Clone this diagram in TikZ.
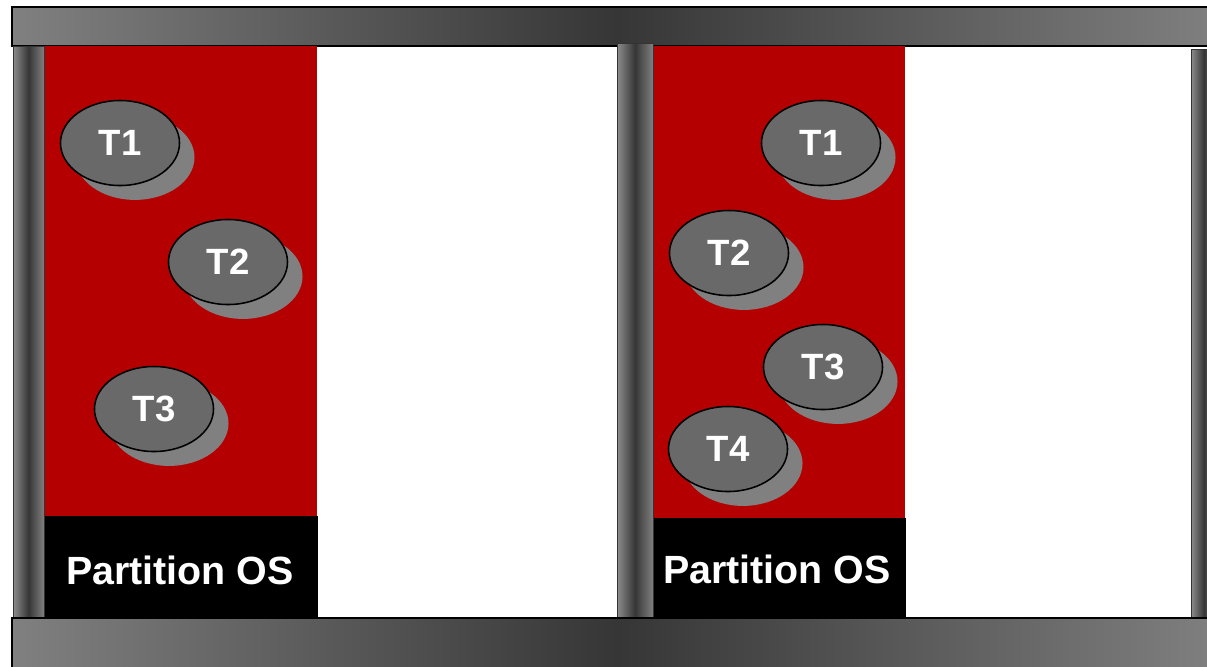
\documentclass[tikz,border=0pt]{standalone}
\usepackage{fontspec}
\setmainfont{Liberation Sans}
\usetikzlibrary{shapes.geometric,shadows,positioning}
\definecolor{partred}{RGB}{180,0,0}
\definecolor{taskgray}{RGB}{105,105,105}
\definecolor{shadowgray}{RGB}{128,128,128}
\definecolor{barlight}{RGB}{128,128,128}
\definecolor{bardark}{RGB}{54,54,54}

\begin{document}
\begin{tikzpicture}[
  x=0.025cm, y=-0.025cm,
  rail/.style={draw=black, line width=1.2pt, left color=barlight, right color=barlight,
               middle color=bardark},
  pillar/.style={draw=black!80, line width=0.7pt, left color=barlight!90, right color=barlight,
                 middle color=bardark},
  part/.style={fill=partred, draw=none},
  osbox/.style={fill=black, draw=none},
  oslabel/.style={anchor=base, text=white, font=\fontsize{28}{32}\selectfont\bfseries},
  task/.style={ellipse, draw, line width=1.1pt, fill=taskgray, minimum width=2.975cm,
               minimum height=2.125cm, inner sep=0pt, text=white,
               font=\fontsize{26}{30}\selectfont\bfseries,
               general shadow={shadow xshift=0.375cm, shadow yshift=-0.36cm,
                               fill=shadowgray, draw=none}}
]
\useasboundingbox (0,0) rectangle (1207,666);

% frame
\draw[rail] (12,7) rectangle (1222,46);

% partitions
\fill[part] (44,46) rectangle (317,516);
\fill[part] (653,46) rectangle (905,518);
\fill[osbox] (43,516) rectangle (318,618);
\fill[osbox] (653,518) rectangle (906,618);

\draw[pillar] (13,46) rectangle (44,618);
\draw[pillar] (617,43) rectangle (653,618);
\draw[pillar] (1191,49) rectangle (1217,618);

\draw[rail] (12,618) rectangle (1222,680);

\node[oslabel] (osL) at (180,584) {Partition OS};
\node[oslabel] (osR) at (777,583) {Partition OS};

% tasks
\node[task] (l1) at (120,143) {T1};
\node[task] (l2) at (228,262) {T2};
\node[task] (l3) at (154,409) {T3};

\node[task] (r1) at (821,143) {T1};
\node[task] (r2) at (729,253) {T2};
\node[task] (r3) at (823,367) {T3};
\node[task] (r4) at (728,449) {T4};
\end{tikzpicture}
\end{document}
